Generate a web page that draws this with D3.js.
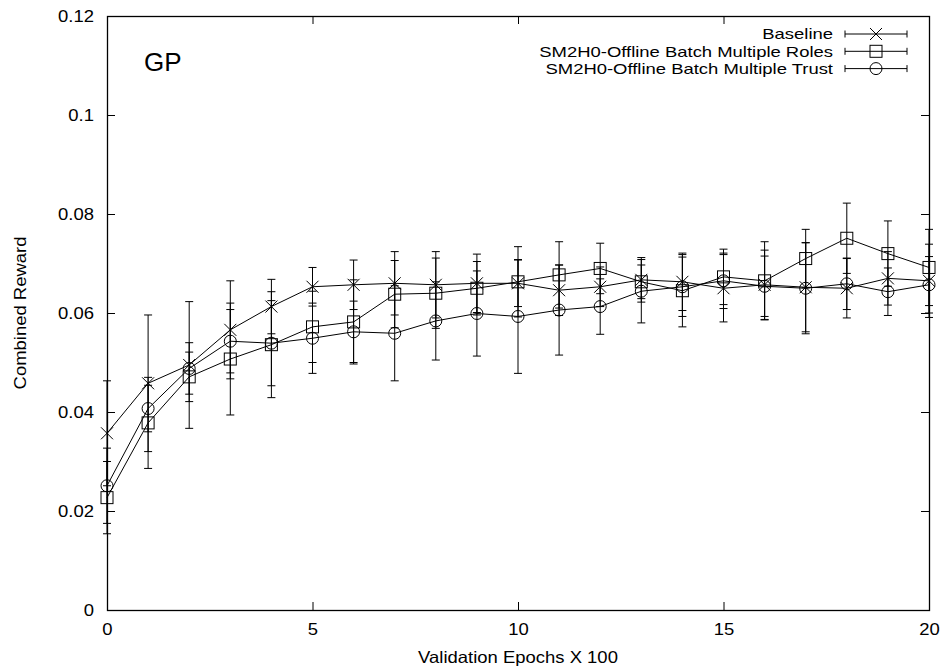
<!DOCTYPE html>
<html>
<head>
<meta charset="utf-8">
<script src="https://cdn.jsdelivr.net/npm/d3@7"></script>
<style>
  body { margin: 0; background: #fff; }
  text { font-family: "Liberation Sans", Arial, sans-serif; fill: #000; }
</style>
</head>
<body>
<div id="chart"></div>
<script>
// data
var epochs = [0, 1, 2, 3, 4, 5, 6, 7, 8, 9, 10, 11, 12, 13, 14, 15, 16, 17, 18, 19, 20];
var baseline = [0.0357, 0.0458, 0.0495, 0.0566, 0.0613, 0.0653, 0.0657, 0.0660, 0.0657, 0.0660, 0.0660,
                0.0646, 0.0653, 0.0667, 0.0663, 0.0650, 0.0657, 0.0652, 0.0650, 0.0670, 0.0665];
var baselineErr = [0.0106, 0.0138, 0.0128, 0.0099, 0.0055, 0.0039, 0.0050, 0.0064, 0.0067, 0.0059, 0.0047,
                   0.0051, 0.0040, 0.0045, 0.0058, 0.0068, 0.0070, 0.0090, 0.0060, 0.0054, 0.0074];
var roles = [0.0227, 0.0378, 0.0471, 0.0507, 0.0536, 0.0572, 0.0582, 0.0638, 0.0640, 0.0650, 0.0663,
             0.0677, 0.0690, 0.0663, 0.0645, 0.0673, 0.0665, 0.0710, 0.0751, 0.0720, 0.0692];
var rolesErr = [0.0073, 0.0092, 0.0050, 0.0113, 0.0107, 0.0072, 0.0085, 0.0068, 0.0071, 0.0054, 0.0071,
                0.0067, 0.0051, 0.0034, 0.0073, 0.0056, 0.0079, 0.0059, 0.0071, 0.0066, 0.0077];
var trust = [0.0251, 0.0407, 0.0488, 0.0543, 0.0539, 0.0549, 0.0562, 0.0559, 0.0584, 0.0599, 0.0593,
             0.0606, 0.0613, 0.0644, 0.0653, 0.0665, 0.0654, 0.0650, 0.0659, 0.0643, 0.0657];
var trustErr = [0.0076, 0.0047, 0.0052, 0.0064, 0.0086, 0.0071, 0.0062, 0.0096, 0.0079, 0.0086, 0.0115,
                0.0091, 0.0056, 0.0064, 0.0060, 0.0056, 0.0061, 0.0092, 0.0052, 0.0048, 0.0057];
var seriesNames = ["Baseline", "SM2H0-Offline Batch Multiple Roles", "SM2H0-Offline Batch Multiple Trust"];
var markerTypes = ["cross", "square", "circle"];
var xTicks = [0, 5, 10, 15, 20];
var yTicks = [0, 0.02, 0.04, 0.06, 0.08, 0.1, 0.12];

var svgWidth = 943;
var svgHeight = 669;
var margin = { top: 16, right: 14, bottom: 59, left: 107 };
var width = svgWidth - margin.left - margin.right;
var height = svgHeight - margin.top - margin.bottom;
var tickLen = 8;
var fontSize = 16.5;
var stretch = 1.12;   // the reference text is a bit wider than Liberation Sans

var svg = d3.select('#chart')
    .append('svg')
    .attr('width', svgWidth)
    .attr('height', svgHeight);

var chartGroup = svg.append('g')
    .attr('transform', `translate(${margin.left}, ${margin.top})`);

var xScale = d3.scaleLinear().domain([0, 20]).range([0, width]);
var yScale = d3.scaleLinear().domain([0, 0.12]).range([height, 0]);

// axes with inward ticks, mirrored on top and right
function styleAxis(g) {
    g.select('.domain').remove();
    g.selectAll('line').attr('stroke', '#000').attr('stroke-width', 1);
    g.selectAll('text').each(function() {
        var t = d3.select(this);
        var x = +t.attr('x') || 0;
        var y = +t.attr('y') || 0;
        t.attr('x', 0).attr('y', 0)
            .attr('transform', `translate(${x}, ${y}) scale(${stretch}, 1)`)
            .style('font-size', fontSize + 'px')
            .attr('fill', '#000');
    });
}

chartGroup.append('g')
    .attr('transform', `translate(0, ${height})`)
    .call(d3.axisBottom(xScale).tickValues(xTicks).tickSizeInner(-tickLen).tickSizeOuter(0)
        .tickPadding(13).tickFormat(d3.format('d')))
    .call(styleAxis);

chartGroup.append('g')
    .call(d3.axisTop(xScale).tickValues(xTicks).tickSizeInner(-tickLen).tickSizeOuter(0).tickFormat(''))
    .call(styleAxis);

chartGroup.append('g')
    .call(d3.axisLeft(yScale).tickValues(yTicks).tickSizeInner(-tickLen).tickSizeOuter(0)
        .tickPadding(13).tickFormat(d => d === 0 ? '0' : String(+d.toFixed(2))))
    .call(styleAxis);

chartGroup.append('g')
    .attr('transform', `translate(${width}, 0)`)
    .call(d3.axisRight(yScale).tickValues(yTicks).tickSizeInner(-tickLen).tickSizeOuter(0).tickFormat(''))
    .call(styleAxis);

// border
chartGroup.append('rect')
    .attr('x', 0.5).attr('y', 0.5)
    .attr('width', width).attr('height', height)
    .attr('fill', 'none')
    .attr('stroke', '#000')
    .attr('stroke-width', 1.3);

// marker drawing
function drawMarker(g, type, cx, cy) {
    var s = 6;
    if (type === 'cross') {
        g.append('path')
            .attr('d', `M${cx - s},${cy - s}L${cx + s},${cy + s}M${cx - s},${cy + s}L${cx + s},${cy - s}`)
            .attr('stroke', '#000').attr('stroke-width', 1).attr('fill', 'none');
    } else if (type === 'square') {
        g.append('rect')
            .attr('x', cx - s).attr('y', cy - s)
            .attr('width', 2 * s).attr('height', 2 * s)
            .attr('stroke', '#000').attr('stroke-width', 1).attr('fill', 'none');
    } else {
        g.append('circle')
            .attr('cx', cx).attr('cy', cy).attr('r', s)
            .attr('stroke', '#000').attr('stroke-width', 1).attr('fill', 'none');
    }
}

var allSeries = [
    { values: baseline, errs: baselineErr },
    { values: roles, errs: rolesErr },
    { values: trust, errs: trustErr }
];

var line = d3.line()
    .x(d => xScale(d.x))
    .y(d => yScale(d.y));

allSeries.forEach(function(s, i) {
    var pts = epochs.map((e, j) => ({ x: e, y: s.values[j], err: s.errs[j] }));
    var g = chartGroup.append('g');

    // error bars
    pts.forEach(function(p) {
        var x = xScale(p.x);
        var y1 = yScale(p.y + p.err);
        var y2 = yScale(p.y - p.err);
        g.append('path')
            .attr('d', `M${x},${y1}L${x},${y2}M${x - 4},${y1}L${x + 4},${y1}M${x - 4},${y2}L${x + 4},${y2}`)
            .attr('stroke', '#000').attr('stroke-width', 1).attr('fill', 'none');
    });

    g.append('path')
        .datum(pts)
        .attr('d', line)
        .attr('fill', 'none')
        .attr('stroke', '#000')
        .attr('stroke-width', 1);

    pts.forEach(p => drawMarker(g, markerTypes[i], xScale(p.x), yScale(p.y)));
});

// helper for stretched text
function addText(x, y, str, anchor, extra, size, k) {
    return svg.append('text')
        .attr('transform', `translate(${x}, ${y}) ${extra || ''} scale(${k || stretch}, 1)`)
        .attr('dy', '0.35em')
        .attr('text-anchor', anchor)
        .style('font-size', (size || fontSize) + 'px')
        .text(str);
}

// legend (rows are tight, so a slightly smaller, wider font)
var legend = svg.append('g');
seriesNames.forEach(function(name, i) {
    var ly = 34 + i * 17.3;
    addText(833, ly, name, 'end', '', 15, 1.23);
    legend.append('path')
        .attr('d', `M845,${ly}L907,${ly}M845,${ly - 3.5}L845,${ly + 3.5}M907,${ly - 3.5}L907,${ly + 3.5}`)
        .attr('stroke', '#000').attr('stroke-width', 1).attr('fill', 'none');
    drawMarker(legend, markerTypes[i], 876, ly);
});

// GP label
svg.append('text')
    .attr('x', 144).attr('y', 71)
    .style('font-size', '26px')
    .text('GP');

// axis labels
addText(margin.left + width / 2, 657, 'Validation Epochs X 100', 'middle');
addText(20, margin.top + height / 2, 'Combined Reward', 'middle', 'rotate(-90)');
</script>
</body>
</html>
